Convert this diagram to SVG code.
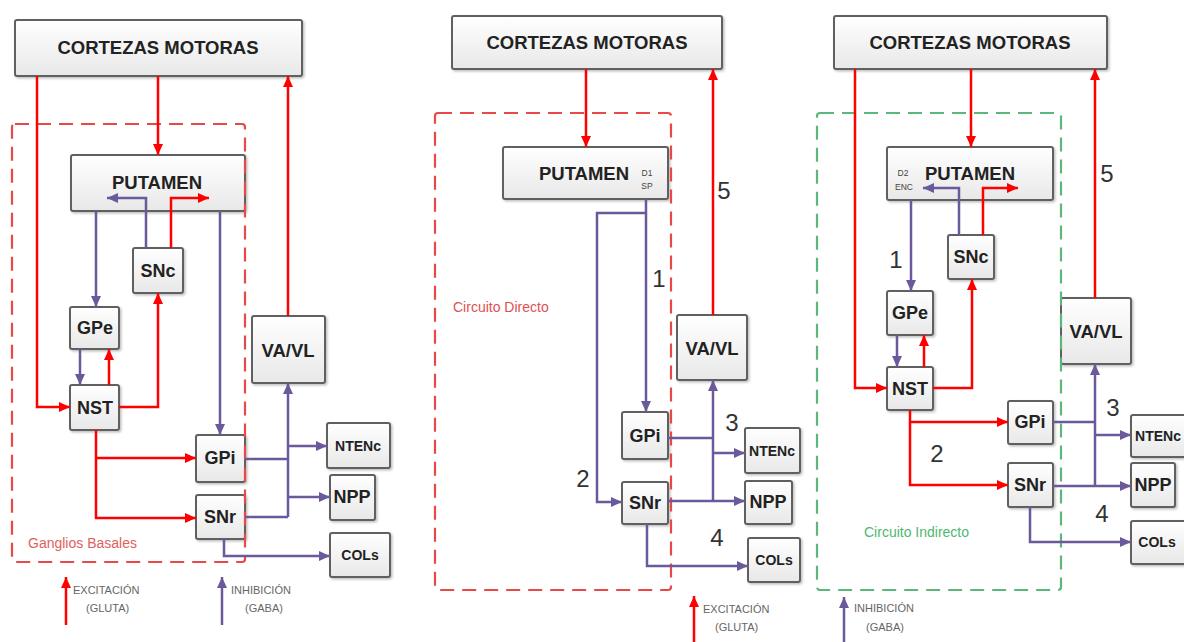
<svg xmlns="http://www.w3.org/2000/svg" width="1184" height="642" viewBox="0 0 1184 642">
<defs>
<linearGradient id="boxg" x1="0" y1="0" x2="0" y2="1">
<stop offset="0" stop-color="#ffffff"/>
<stop offset="1" stop-color="#e8e8e8"/>
</linearGradient>
<filter id="sh" x="-10%" y="-10%" width="130%" height="130%">
<feDropShadow dx="1.5" dy="1.5" stdDeviation="1" flood-color="#000" flood-opacity="0.25"/>
</filter>
<marker id="ar" markerUnits="userSpaceOnUse" markerWidth="12" markerHeight="12" refX="11" refY="5" orient="auto">
<path d="M0,0 L11,5 L0,10 z" fill="#ff0000"/>
</marker>
<marker id="ap" markerUnits="userSpaceOnUse" markerWidth="12" markerHeight="12" refX="11" refY="5" orient="auto">
<path d="M0,0 L11,5 L0,10 z" fill="#6a5a9c"/>
</marker>
</defs>
<style>
.box{fill:url(#boxg);stroke:#606060;stroke-width:2;filter:url(#sh)}
.t{font-family:"Liberation Sans",Arial,sans-serif;font-weight:bold;fill:#222;text-anchor:middle;dominant-baseline:central}
.t19{font-size:18.5px}
.t18{font-size:18px}
.t15{font-size:14px}
.sm{font-family:"Liberation Sans",Arial,sans-serif;font-size:8.5px;fill:#444;text-anchor:middle;dominant-baseline:central}
.r{fill:none;stroke:#ff0000;stroke-width:2.5}
.p{fill:none;stroke:#6a5a9c;stroke-width:2.5}
.ra{marker-end:url(#ar)}
.pa{marker-end:url(#ap)}
.dr{fill:none;stroke:#e84848;stroke-width:2.2;stroke-dasharray:14 8}
.dg{fill:none;stroke:#5cb87a;stroke-width:2.2;stroke-dasharray:14 8}
.num{font-family:"Liberation Sans",Arial,sans-serif;font-size:24px;fill:#333;text-anchor:middle;dominant-baseline:central}
.lab{font-family:"Liberation Sans",Arial,sans-serif;font-size:14px;dominant-baseline:central}
.leg{font-family:"Liberation Sans",Arial,sans-serif;font-size:11px;fill:#666;dominant-baseline:central}
</style>
<rect width="1184" height="642" fill="#ffffff"/>

<!-- panel 1 nodes -->
<g id="cortex1"><rect class="box" x="15" y="20" width="287" height="56" rx="2"/><text class="t t19" x="158" y="47">CORTEZAS MOTORAS</text></g>
<g id="putamen1"><rect class="box" x="71" y="155" width="174" height="56" rx="2"/><text class="t t19" x="157" y="182">PUTAMEN</text></g>
<g id="snc1"><rect class="box" x="133" y="248" width="50" height="45" rx="2"/><text class="t t18" x="158" y="271">SNc</text></g>
<g id="gpe1"><rect class="box" x="70" y="307" width="49" height="42" rx="2"/><text class="t t18" x="95" y="328">GPe</text></g>
<g id="nst1"><rect class="box" x="70" y="385" width="49" height="45" rx="2"/><text class="t t18" x="95" y="408">NST</text></g>
<g id="gpi1"><rect class="box" x="196" y="435" width="49" height="47" rx="2"/><text class="t t18" x="220" y="458">GPi</text></g>
<g id="snr1"><rect class="box" x="196" y="495" width="49" height="44" rx="2"/><text class="t t18" x="220" y="517">SNr</text></g>
<g id="vavl1"><rect class="box" x="252" y="316" width="73" height="67" rx="2"/><text class="t t19" x="288" y="350">VA/VL</text></g>
<g id="ntenc1"><rect class="box" x="327" y="423" width="63" height="45" rx="2"/><text class="t t15" x="358" y="446">NTENc</text></g>
<g id="npp1"><rect class="box" x="330" y="475" width="45" height="45" rx="2"/><text class="t t18" x="352" y="497">NPP</text></g>
<g id="cols1"><rect class="box" x="330" y="533" width="60" height="44" rx="2"/><text class="t t15" x="360" y="555">COLs</text></g>

<!-- panel 2 nodes -->
<g id="cortex2"><rect class="box" x="452" y="16" width="270" height="53" rx="2"/><text class="t t19" x="587" y="42">CORTEZAS MOTORAS</text></g>
<g id="putamen2"><rect class="box" x="503" y="147" width="165" height="52" rx="2"/><text class="t t19" x="584" y="173">PUTAMEN</text><text class="sm" x="647" y="173">D1</text><text class="sm" x="647" y="186">SP</text></g>
<g id="gpi2"><rect class="box" x="622" y="412" width="46" height="47" rx="2"/><text class="t t18" x="645" y="436">GPi</text></g>
<g id="snr2"><rect class="box" x="622" y="482" width="46" height="42" rx="2"/><text class="t t18" x="645" y="503">SNr</text></g>
<g id="vavl2"><rect class="box" x="677" y="315" width="70" height="65" rx="2"/><text class="t t19" x="712" y="348">VA/VL</text></g>
<g id="ntenc2"><rect class="box" x="745" y="428" width="55" height="45" rx="2"/><text class="t t15" x="772" y="451">NTENc</text></g>
<g id="npp2"><rect class="box" x="745" y="481" width="47" height="43" rx="2"/><text class="t t18" x="768" y="502">NPP</text></g>
<g id="cols2"><rect class="box" x="748" y="538" width="52" height="44" rx="2"/><text class="t t15" x="774" y="560">COLs</text></g>

<!-- panel 3 nodes -->
<g id="cortex3"><rect class="box" x="834" y="16" width="273" height="53" rx="2"/><text class="t t19" x="970" y="42">CORTEZAS MOTORAS</text></g>
<g id="putamen3"><rect class="box" x="887" y="147" width="166" height="53" rx="2"/><text class="t t19" x="970" y="173">PUTAMEN</text><text class="sm" x="903" y="173">D2</text><text class="sm" x="904" y="187">ENC</text></g>
<g id="snc3"><rect class="box" x="948" y="235" width="46" height="44" rx="2"/><text class="t t18" x="971" y="257">SNc</text></g>
<g id="gpe3"><rect class="box" x="887" y="291" width="46" height="44" rx="2"/><text class="t t18" x="910" y="313">GPe</text></g>
<g id="nst3"><rect class="box" x="887" y="367" width="46" height="43" rx="2"/><text class="t t18" x="910" y="389">NST</text></g>
<g id="gpi3"><rect class="box" x="1008" y="401" width="45" height="43" rx="2"/><text class="t t18" x="1030" y="422">GPi</text></g>
<g id="snr3"><rect class="box" x="1008" y="463" width="45" height="44" rx="2"/><text class="t t18" x="1030" y="485">SNr</text></g>
<g id="vavl3"><rect class="box" x="1061" y="298" width="70" height="66" rx="2"/><text class="t t19" x="1096" y="331">VA/VL</text></g>
<g id="ntenc3"><rect class="box" x="1131" y="415" width="62" height="42" rx="2"/><text class="t t15" x="1158" y="436">NTENc</text></g>
<g id="npp3"><rect class="box" x="1131" y="463" width="44" height="44" rx="2"/><text class="t t18" x="1153" y="485">NPP</text></g>
<g id="cols3"><rect class="box" x="1131" y="521" width="62" height="43" rx="2"/><text class="t t15" x="1157" y="542">COLs</text></g>

<!-- region frames -->
<g id="frames">
<rect class="dr" x="12" y="124" width="233" height="438" rx="3"/>
<rect class="dr" x="435" y="113" width="236" height="477" rx="3"/>
<rect class="dg" x="817" y="113" width="244" height="477" rx="3"/>
<text class="lab" x="28" y="543" fill="#e06060">Ganglios Basales</text>
<text class="lab" x="453" y="307" fill="#e05050">Circuito Directo</text>
<text class="lab" x="864" y="532" fill="#4cb870">Circuito Indirecto</text>
</g>

<!-- connectors -->
<g id="connectors">
<!-- panel 1 -->
<path class="r ra" d="M37 76 V407 H70"/>
<path class="r ra" d="M158 76 V155"/>
<path class="p pa" d="M96 211 V307"/>
<path class="p pa" d="M220 211 V435"/>
<path class="p pa" d="M146 248 V198 H107"/>
<path class="r ra" d="M171 248 V198 H209"/>
<path class="p pa" d="M80 349 V385"/>
<path class="r ra" d="M109 385 V349"/>
<path class="r ra" d="M119 407 H158 V293"/>
<path class="r ra" d="M96 430 V518 H196"/>
<path class="r ra" d="M96 458 H196"/>
<path class="r ra" d="M288 316 V76"/>
<path class="p" d="M245 459 H288 M245 517 H288"/>
<path class="p pa" d="M288 517 V383"/>
<path class="p pa" d="M288 446 H327"/>
<path class="p pa" d="M288 497 H330"/>
<path class="p pa" d="M224 539 V556 H330"/>
<!-- panel 2 -->
<path class="r ra" d="M586 69 V147"/>
<path class="r ra" d="M713 315 V69"/>
<path class="p pa" d="M646 199 V412"/>
<path class="p pa" d="M646 213 H597 V502 H622"/>
<path class="p" d="M668 438 H713 M668 501 H713"/>
<path class="p pa" d="M713 501 V380"/>
<path class="p pa" d="M713 453 H745"/>
<path class="p pa" d="M713 501 H745"/>
<path class="p pa" d="M647 524 V566 H748"/>
<!-- panel 3 -->
<path class="r ra" d="M855 69 V388 H887"/>
<path class="r ra" d="M971 69 V147"/>
<path class="p pa" d="M959 235 V188 H923"/>
<path class="r ra" d="M983 235 V188 H1018"/>
<path class="p pa" d="M911 200 V291"/>
<path class="p pa" d="M897 335 V367"/>
<path class="r ra" d="M924 367 V335"/>
<path class="r ra" d="M933 388 H972 V279"/>
<path class="r ra" d="M910 410 V485 H1008"/>
<path class="r ra" d="M910 422 H1008"/>
<path class="r ra" d="M1095 298 V69"/>
<path class="p" d="M1053 422 H1095 M1053 486 H1095"/>
<path class="p pa" d="M1095 486 V364"/>
<path class="p pa" d="M1095 435 H1131"/>
<path class="p pa" d="M1095 486 H1131"/>
<path class="p pa" d="M1030 507 V542 H1131"/>
</g>

<!-- numbers -->
<g id="numbers">
<text class="num" x="659" y="278">1</text>
<text class="num" x="583" y="478">2</text>
<text class="num" x="732" y="422">3</text>
<text class="num" x="717" y="537">4</text>
<text class="num" x="724" y="190">5</text>
<text class="num" x="896" y="259">1</text>
<text class="num" x="937" y="453">2</text>
<text class="num" x="1113" y="407">3</text>
<text class="num" x="1102" y="513">4</text>
<text class="num" x="1107" y="173">5</text>
</g>

<!-- legends -->
<g id="legend1">
<path class="r ra" d="M66 625 V577"/>
<text class="leg" x="73" y="590">EXCITACIÓN</text>
<text class="leg" x="86" y="608">(GLUTA)</text>
<path class="p pa" d="M222 625 V577"/>
<text class="leg" x="231" y="590">INHIBICIÓN</text>
<text class="leg" x="245" y="608">(GABA)</text>
</g>
<g id="legend2">
<path class="r ra" d="M694 642 V596"/>
<text class="leg" x="703" y="609">EXCITACIÓN</text>
<text class="leg" x="715" y="627">(GLUTA)</text>
</g>
<g id="legend3">
<path class="p pa" d="M844 642 V597"/>
<text class="leg" x="854" y="608">INHIBICIÓN</text>
<text class="leg" x="866" y="627">(GABA)</text>
</g>
</svg>
